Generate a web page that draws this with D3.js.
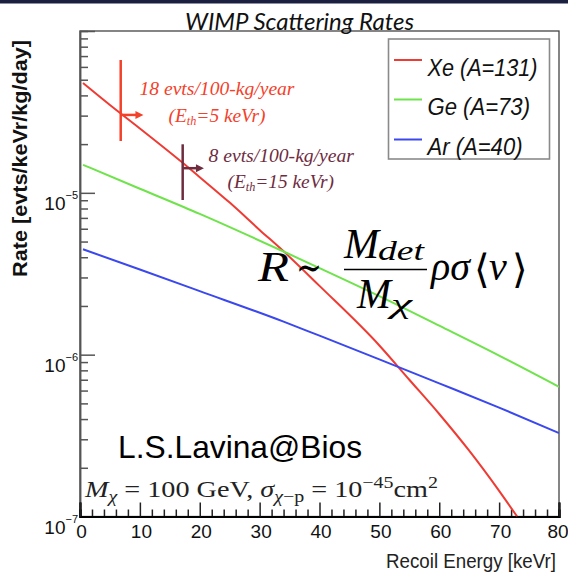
<!DOCTYPE html>
<html><head><meta charset="utf-8">
<script src="https://cdn.jsdelivr.net/npm/d3@7"></script>
<style>
html,body{margin:0;padding:0;background:#fff;}
svg{display:block;}
</style></head>
<body>
<svg id="chart" width="568" height="577"></svg>
<script>
// ---------------- data ----------------
const energyXe = [0.5, 5, 10, 17, 20, 25, 30, 34, 40, 50, 55, 60, 65, 70, 73];
const rateXe   = [4.77e-5, 3.49e-5, 2.50e-5, 1.55e-5, 1.25e-5, 8.7e-6, 5.9e-6, 4.35e-6, 2.66e-6, 1.14e-6, 7.0e-7, 4.3e-7, 2.55e-7, 1.44e-7, 1.0e-7];
const energyGeAr = [0.5, 10, 20, 34, 40, 50, 60, 70, 80];
const rateGe   = [1.49e-5, 1.06e-5, 7.41e-6, 4.34e-6, 3.43e-6, 2.30e-6, 1.51e-6, 9.87e-7, 6.33e-7];
const rateAr   = [4.48e-6, 3.36e-6, 2.47e-6, 1.60e-6, 1.31e-6, 9.36e-7, 6.65e-7, 4.71e-7, 3.28e-7];
const seriesNames = ["Xe (A=131)", "Ge (A=73)", "Ar (A=40)"];
const seriesColors = ["#ee3b33", "#6fe34b", "#3a48ee"];
const xTickValues = [0, 10, 20, 30, 40, 50, 60, 70, 80];
const yMajorTicks = [1e-7, 1e-6, 1e-5];
const yTickExponents = ["−7", "−6", "−5"];
// threshold markers
const markerEnergy = [6.8, 17.15];
const markerTop    = [6.62e-5, 1.995e-5];
const markerBottom = [2.09e-5, 9.03e-6];
const arrowRate    = [3.03e-5, 1.42e-5];
const arrowEnd     = [10.6, 20.7];
const markerColors = ["#f4412a", "#6e2c3f"];
const markerLine1  = ["18 evts/100-kg/year", "8 evts/100-kg/year"];
const markerThr    = ["=5 keVr)", "=15 keVr)"];

// ---------------- setup ----------------
const svg = d3.select("#chart");
const L = 80, R = 559, T = 31, B = 516.5;
const x = d3.scaleLinear().domain([0, 80]).range([L, R]);
const y = d3.scaleLog().domain([1e-7, 1e-4]).range([B, T]);

// top dark strip
svg.append("rect").attr("x", 0).attr("y", 0).attr("width", 568).attr("height", 3.5).attr("fill", "#1b2040");

// frame
svg.append("rect").attr("x", L).attr("y", T).attr("width", R - L).attr("height", B - T)
  .attr("fill", "none").attr("stroke", "#444").attr("stroke-width", 1.3);

// clip
svg.append("clipPath").attr("id", "clip").append("rect")
  .attr("x", L).attr("y", T).attr("width", R - L).attr("height", B - T);

// y axis ticks
const yMinor = [];
for (let e = -7; e < -4; e++) for (let m = 2; m <= 9; m++) yMinor.push(m * Math.pow(10, e));
const yAxisMinor = svg.append("g").attr("transform", `translate(${L},0)`)
  .call(d3.axisLeft(y).tickValues(yMinor).tickSize(-8).tickFormat(""));
const yAxisMajor = svg.append("g").attr("transform", `translate(${L},0)`)
  .call(d3.axisLeft(y).tickValues(yMajorTicks).tickSize(-15).tickFormat(""));
[yAxisMinor, yAxisMajor].forEach(g => {
  g.select(".domain").attr("stroke", "#555").attr("stroke-width", 1.5);
  g.selectAll(".tick line").attr("stroke", "#555").attr("stroke-width", 1.5);
});

// y tick labels
yMajorTicks.forEach((v, i) => {
  const t = svg.append("text").attr("x", 78).attr("y", y(v) + 17)
    .attr("text-anchor", "end")
    .style("font-family", "'Liberation Sans', Arial, sans-serif")
    .style("font-size", "19px").attr("fill", "#111");
  t.append("tspan").text("10");
  t.append("tspan").attr("dy", -11).style("font-size", "11px").text(yTickExponents[i]);
});

// x axis
const xMinor = d3.range(0, 81, 2).filter(v => v % 10 !== 0);
const xAxisMinor = svg.append("g").attr("transform", `translate(0,${B})`)
  .call(d3.axisBottom(x).tickValues(xMinor).tickSize(-7).tickFormat(""));
const xAxisMajor = svg.append("g").attr("transform", `translate(0,${B})`)
  .call(d3.axisBottom(x).tickValues(xTickValues).tickSize(-14).tickFormat(d3.format("d")));
[xAxisMinor, xAxisMajor].forEach(g => {
  g.select(".domain").attr("stroke", "#000").attr("stroke-width", 2.2);
  g.selectAll(".tick line").attr("stroke", "#222").attr("stroke-width", 1.5);
});
xAxisMajor.selectAll(".tick text")
  .attr("y", 21.5).attr("dy", 0)
  .attr("x", d => d === 80 ? -1.5 : 1)
  .style("font-family", "'Liberation Sans', Arial, sans-serif")
  .style("font-size", "19px").attr("fill", "#111");

// axis titles
svg.append("text").attr("x", 556).attr("y", 568).attr("text-anchor", "end")
  .attr("textLength", 170).attr("lengthAdjust", "spacingAndGlyphs")
  .style("font-family", "'Liberation Sans', Arial, sans-serif").style("font-size", "20px")
  .attr("fill", "#222").text("Recoil Energy [keVr]");
svg.append("text").attr("transform", "translate(27,158.5) rotate(-90)").attr("text-anchor", "middle")
  .attr("textLength", 237).attr("lengthAdjust", "spacingAndGlyphs")
  .style("font-family", "'Liberation Sans', Arial, sans-serif").style("font-size", "20px")
  .style("font-weight", "bold").attr("fill", "#111").text("Rate [evts/keVr/kg/day]");

// title
svg.append("text").attr("x", 185).attr("y", 30)
  .attr("textLength", 229).attr("lengthAdjust", "spacingAndGlyphs")
  .style("font-family", "Lato, 'Open Sans', sans-serif").style("font-style", "italic")
  .style("font-size", "23px").attr("fill", "#111").text("WIMP Scattering Rates");

// curves
const series = [
  energyXe.map((e, i) => ({ e, v: rateXe[i] })),
  energyGeAr.map((e, i) => ({ e, v: rateGe[i] })),
  energyGeAr.map((e, i) => ({ e, v: rateAr[i] }))
];
const line = d3.line().x(d => x(d.e)).y(d => y(d.v)).curve(d3.curveMonotoneX);
const gLines = svg.append("g").attr("clip-path", "url(#clip)");
series.forEach((s, i) => {
  gLines.append("path").datum(s).attr("d", line).attr("fill", "none")
    .attr("stroke", seriesColors[i]).attr("stroke-width", 2);
});

// threshold markers
markerEnergy.forEach((e, i) => {
  const c = markerColors[i];
  svg.append("line").attr("x1", x(e)).attr("x2", x(e)).attr("y1", y(markerTop[i])).attr("y2", y(markerBottom[i]))
    .attr("stroke", c).attr("stroke-width", 2.5);
  const ay = y(arrowRate[i]);
  svg.append("line").attr("x1", x(e)).attr("x2", x(arrowEnd[i]) - 6).attr("y1", ay).attr("y2", ay)
    .attr("stroke", c).attr("stroke-width", 2.5);
  const xe = x(arrowEnd[i]);
  svg.append("path").attr("d", `M${xe},${ay} L${xe - 8},${ay - 4} L${xe - 8},${ay + 4} Z`).attr("fill", c);
});

// marker labels
const serif = "'Liberation Serif', 'Times New Roman', serif";
const annot = [
  { x1: 139.5, y1: 95, w1: 155, x2: 168.5, y2: 121.7, w2: 97 },
  { x1: 208.5, y1: 161.7, w1: 145.5, x2: 227.5, y2: 187.7, w2: 106.5 }
];
annot.forEach((a, i) => {
  svg.append("text").attr("x", a.x1).attr("y", a.y1)
    .attr("textLength", a.w1).attr("lengthAdjust", "spacingAndGlyphs")
    .style("font-family", serif).style("font-style", "italic").style("font-size", "19px")
    .attr("fill", markerColors[i]).text(markerLine1[i]);
  const t = svg.append("text").attr("x", a.x2).attr("y", a.y2)
    .attr("textLength", a.w2).attr("lengthAdjust", "spacingAndGlyphs")
    .style("font-family", serif).style("font-style", "italic").style("font-size", "19px")
    .attr("fill", markerColors[i]);
  t.append("tspan").text("(E");
  t.append("tspan").attr("dy", 3).style("font-size", "12px").text("th");
  t.append("tspan").attr("dy", -3).text(markerThr[i]);
});

// legend
const lg = svg.append("g");
lg.append("rect").attr("x", 388.5).attr("y", 39).attr("width", 161).attr("height", 120)
  .attr("fill", "#fff").attr("stroke", "#8a8a8a").attr("stroke-width", 1.6);
const legendRows = [60, 99.5, 139.5];
const legendW = [110, 102.5, 95];
seriesNames.forEach((n, i) => {
  lg.append("line").attr("x1", 394).attr("x2", 422).attr("y1", legendRows[i]).attr("y2", legendRows[i])
    .attr("stroke", seriesColors[i]).attr("stroke-width", 2);
  lg.append("text").attr("x", 427.5).attr("y", legendRows[i] + 15.5)
    .attr("textLength", legendW[i]).attr("lengthAdjust", "spacingAndGlyphs")
    .style("font-family", "'Liberation Sans', Arial, sans-serif").style("font-style", "italic")
    .style("font-size", "23px").attr("fill", "#111").text(n);
});

// formula R ~ M_det / M_chi rho sigma <v>
const mfont = "'Liberation Serif', 'DejaVu Serif', serif";
function mt(xp, yp, s, fs, w, italic, fam) {
  const t = svg.append("text").attr("x", xp).attr("y", yp)
    .style("font-family", fam || mfont).style("font-size", fs + "px")
    .style("font-style", italic ? "italic" : "normal").attr("fill", "#000").text(s);
  if (w) t.attr("textLength", w).attr("lengthAdjust", "spacingAndGlyphs");
  return t;
}
mt(258, 281, "R", 42, 31, true);
mt(296, 281, "∼", 40, 26, false, "'DejaVu Serif', serif");
mt(344, 258, "M", 42, 35, true);
mt(378, 260, "det", 27, 46, true);
svg.append("line").attr("x1", 344).attr("x2", 427).attr("y1", 269.5).attr("y2", 269.5)
  .attr("stroke", "#000").attr("stroke-width", 1.6);
mt(357, 308, "M", 42, 34, true);
mt(391, 313, "χ", 28, 21, true);
// rho sigma <v> as one text element
const rs = svg.append("text").attr("y", 280).style("font-size", "40px").attr("fill", "#000");
rs.append("tspan").attr("x", 431).style("font-family", mfont).style("font-style", "italic").text("ρσ");
rs.append("tspan").attr("x", 474).attr("dy", 3).style("font-family", "'DejaVu Serif', 'DejaVu Sans', serif").text("⟨");
rs.append("tspan").attr("x", 489).attr("dy", -3).style("font-family", mfont).style("font-style", "italic").text("v");
rs.append("tspan").attr("x", 512).attr("dy", 3).style("font-family", "'DejaVu Serif', 'DejaVu Sans', serif").text("⟩");

// credit
svg.append("text").attr("x", 118).attr("y", 458).attr("textLength", 244).attr("lengthAdjust", "spacingAndGlyphs")
  .style("font-family", "'Liberation Sans', Arial, sans-serif").style("font-size", "32px")
  .attr("fill", "#000").text("L.S.Lavina@Bios");

// parameters text
const pt = svg.append("text").attr("x", 85).attr("y", 496.5)
  .attr("textLength", 353).attr("lengthAdjust", "spacingAndGlyphs")
  .style("font-family", mfont).style("font-size", "24px").attr("fill", "#222");
pt.append("tspan").style("font-style", "italic").text("M");
pt.append("tspan").attr("dy", 5).style("font-style", "italic").style("font-size", "17px").text("χ");
pt.append("tspan").attr("dy", -5).text(" = 100 GeV, ");
pt.append("tspan").style("font-style", "italic").text("σ");
pt.append("tspan").attr("dy", 5).style("font-size", "17px").style("font-style", "italic").text("χ");
pt.append("tspan").style("font-size", "17px").text("−p");
pt.append("tspan").attr("dy", -5).text(" = 10");
pt.append("tspan").attr("dy", -9).style("font-size", "17px").text("−45");
pt.append("tspan").attr("dy", 9).text("cm");
pt.append("tspan").attr("dy", -9).style("font-size", "17px").text("2");
</script>
</body></html>
